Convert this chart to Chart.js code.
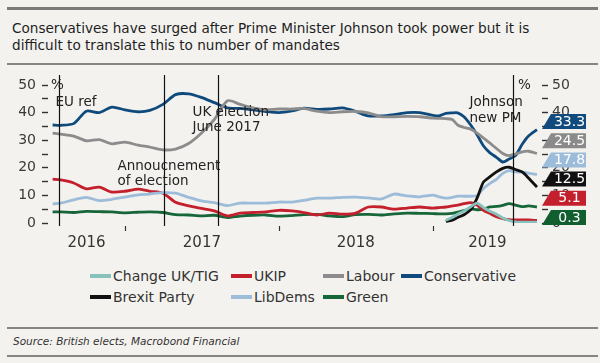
<!DOCTYPE html>
<html>
<head>
<meta charset="utf-8">
<script src="https://cdn.jsdelivr.net/npm/chart.js@4"></script>
<style>
  body { margin: 0; background: #f3f2ee; font-family: "DejaVu Sans", sans-serif; color: #222; }
  #page { position: relative; width: 600px; height: 363px; overflow: hidden; background: #f3f2ee; }
  .rule { position: absolute; left: 7px; right: 2px; background: #858585; }
  #title { position: absolute; left: 12px; top: 20px; font-size: 13.6px; line-height: 17px; color: #1e1e1e; }
  #chartBox { position: absolute; left: 0; top: 66px; width: 600px; height: 190px; }
  #legend { position: absolute; left: 90px; top: 267px; display: grid; grid-template-columns: 141px 92px 78px auto; row-gap: 3px; font-size: 14px; color: #333; }
  .item { display: flex; align-items: center; height: 18px; white-space: nowrap; }
  .swatch { width: 21px; height: 4px; margin-right: 2px; }
  #source { position: absolute; left: 13px; top: 335px; font-size: 10.5px; font-style: italic; color: #333; }
</style>
</head>
<body>
<div id="page">
  <div class="rule" style="top:7px;height:3px;background:#7a7a7a"></div>
  <div id="title">Conservatives have surged after Prime Minister Johnson took power but it is<br>difficult to translate this to number of mandates</div>
  <div class="rule" style="top:63px;height:2px"></div>
  <div id="chartBox"><canvas id="myChart" width="600" height="190"></canvas></div>
  <div id="legend"></div>
  <div class="rule" style="top:327px;height:2px"></div>
  <div id="source">Source: British elects, Macrobond Financial</div>
  <div class="rule" style="top:355px;height:2px"></div>
</div>
<script>
// monthly to end-2018, twice a month in 2019
const dates = [
  "2016-07-13", "2016-08-01", "2016-09-01", "2016-10-01", "2016-11-01", "2016-12-01",
  "2017-01-01", "2017-02-01", "2017-03-01", "2017-04-01", "2017-05-01", "2017-06-01",
  "2017-07-01", "2017-08-01", "2017-09-01", "2017-10-01", "2017-11-01", "2017-12-01",
  "2018-01-01", "2018-02-01", "2018-03-01", "2018-04-01", "2018-05-01", "2018-06-01",
  "2018-07-01", "2018-08-01", "2018-09-01", "2018-10-01", "2018-11-01", "2018-12-01",
  "2019-01-01", "2019-01-16", "2019-02-01", "2019-02-16", "2019-03-01", "2019-03-16",
  "2019-04-01", "2019-04-16", "2019-05-01", "2019-05-16", "2019-06-01", "2019-06-16",
  "2019-07-01", "2019-07-16", "2019-08-01", "2019-08-16", "2019-09-05"
];
const newPartyDates = dates.slice(32);

const conservative = [35.5, 35.4, 36, 40.5, 40, 42, 41, 40.3, 40.8, 43, 46.5, 46.8, 45.5, 43.6, 41.7, 41.5, 41, 40.4,
  40, 40.6, 41.6, 41.2, 41.3, 41.7, 40.5, 38.8, 38.8, 39.3, 40, 40,
  39, 38.8, 39.7, 39.9, 39.9, 38.5, 35.5, 32, 28, 25.5, 23.8, 22.1, 23.2, 24.4, 28.5, 31.5, 33.8];
const labour = [32.6, 32.2, 31.5, 29.8, 30.2, 28.7, 29.3, 28.2, 27.5, 26.5, 26.8, 28.8, 32.5, 37.5, 44.3, 43, 41.7, 41,
  41.3, 41.3, 41.5, 40.5, 40, 40.3, 40.4, 39.9, 38.5, 38.5, 38.6, 38.5,
  38, 37.9, 37.8, 37.5, 35.5, 34.6, 34, 32.6, 30.8, 29, 27, 25.2, 24.4, 25, 25.8, 26, 25.2];
const libDems = [6.9, 7.2, 8.4, 9.3, 8.1, 8.6, 9.4, 10.2, 10.5, 11, 10.8, 9.3, 8, 7.4, 6.3, 7.2, 7.2, 7.2,
  7.6, 7.6, 8.2, 9, 9, 9.3, 9.4, 9.1, 8.7, 10.5, 9.8, 9.5,
  10.1, 9.5, 9, 9.3, 9.7, 9.7, 9.7, 9.9, 12.5, 14.3, 15.8, 18, 19, 18.5, 18.4, 18.1, 17.5];
const ukip = [15.9, 15.6, 14.5, 12.4, 13, 11.2, 11.5, 12.3, 11.5, 10.8, 7.5, 6.2, 5.3, 4.4, 2.6, 3.6, 3.8, 4,
  4.6, 4.4, 3.8, 2.9, 3.6, 3.2, 3.5, 5.8, 5.8, 5, 5.4, 5.8,
  5.4, 5.6, 5.8, 6.2, 6.5, 7, 7.4, 6.5, 4.6, 3.5, 2.3, 1.6, 1.2, 1.1, 1.1, 1.1, 0.9];
const green = [4, 4, 3.8, 4.2, 4.1, 4, 3.7, 3.9, 4, 3.8, 3, 2.9, 2.6, 2.8, 2, 2.5, 2.8, 2.9,
  2.5, 2.7, 3, 3.1, 2.6, 2.3, 3, 3.1, 2.9, 3.3, 3.6, 3.5,
  3.4, 3.3, 3.3, 3.5, 3.9, 4.5, 5.1, 4.8, 5, 5.8, 6, 6.4, 7, 6.5, 5.9, 6.2, 5.8];
const brexitParty = [0.6, 1, 2, 3, 4.8, 9, 14.8, 16.7, 18.5, 19.8, 20.2, 19.4, 18.5, 16.3, 13];
const changeUK = [1, 2, 3.2, 4.3, 5.9, 7.2, 5.6, 4.3, 3.2, 1.8, 0.9, 0.4, 0.3, 0.3, 0.3];

const legendOrder = ["Change UK/TIG", "UKIP", "Labour", "Conservative", "Brexit Party", "LibDems", "Green"];
const yearLabels = ["2016", "2017", "2018", "2019"];
const endLabels = ["33.3", "24.5", "17.8", "12.5", "5.1", "0.3"];
const endColors = ["#114a7c", "#8a8a8a", "#9cbcd9", "#111111", "#c41f2c", "#115f2f"];

// vertical event lines + their notes
const events = [
  { date: "2016-07-29", dx: -4, lines: ["EU ref"], value: 43.8 },
  { date: "2017-04-04", dx: -47, lines: ["Annoucnement", "of election"], value: 20.6 },
  { date: "2017-08-10", dx: -26, lines: ["UK election", "June 2017"], value: 40.2 },
  { date: "2019-07-10", dx: -44, lines: ["Johnson", "new PM"], value: 43.5 }
];

function toYear(s) {
  const d = new Date(s + "T00:00:00Z");
  const y = d.getUTCFullYear();
  const a = Date.UTC(y, 0, 1), b = Date.UTC(y + 1, 0, 1);
  return y + (d - a) / (b - a);
}
function pts(vals, ds) {
  return vals.map((v, i) => ({ x: toYear(ds[i]), y: v }));
}

const series = [
  { label: "Change UK/TIG", data: pts(changeUK, newPartyDates), color: "#86c1bc" },
  { label: "Brexit Party", data: pts(brexitParty, newPartyDates), color: "#111111" },
  { label: "Labour", data: pts(labour, dates), color: "#8c8c8c" },
  { label: "Conservative", data: pts(conservative, dates), color: "#0f4a7d" },
  { label: "LibDems", data: pts(libDems, dates), color: "#9cbcd9" },
  { label: "UKIP", data: pts(ukip, dates), color: "#c41f2c" },
  { label: "Green", data: pts(green, dates), color: "#17663a" }
];

const FONT = "DejaVu Sans";

const extras = {
  id: "extras",
  afterDatasetsDraw(chart) {
    const { ctx, chartArea, scales } = chart;
    const x = scales.x, y = scales.y;
    ctx.save();
    ctx.strokeStyle = "#111";
    ctx.lineWidth = 1.2;
    ctx.fillStyle = "#222";
    ctx.font = "13.5px " + FONT;
    ctx.textBaseline = "middle";
    events.forEach((ev) => {
      const px = Math.round(x.getPixelForValue(toYear(ev.date))) + 0.5;
      ctx.beginPath();
      ctx.moveTo(px, chartArea.top - 10);
      ctx.lineTo(px, chartArea.bottom + 3);
      ctx.stroke();
      const py = y.getPixelForValue(ev.value);
      ev.lines.forEach((t, i) => ctx.fillText(t, px + ev.dx, py + i * 15.5));
    });
    ctx.fillText("%", chartArea.left + 3, y.getPixelForValue(50));
    ctx.fillText("%", chartArea.right - 24, y.getPixelForValue(50));
    ctx.restore();
  },
  afterDraw(chart) {
    const { ctx, chartArea, scales } = chart;
    const x = scales.x;
    ctx.save();
    // year ticks and labels
    ctx.strokeStyle = "#333";
    ctx.lineWidth = 1.2;
    ctx.fillStyle = "#333";
    ctx.font = "15px " + FONT;
    ctx.textAlign = "center";
    ctx.textBaseline = "middle";
    yearLabels.forEach((yr) => {
      const a = Math.max(chartArea.left, x.getPixelForValue(Number(yr)));
      const b = Math.min(chartArea.right, x.getPixelForValue(Number(yr) + 1));
      if (Number(yr) > Number(yearLabels[0])) {
        const px = Math.round(x.getPixelForValue(Number(yr))) + 0.5;
        ctx.beginPath();
        ctx.moveTo(px, chartArea.bottom + 3);
        ctx.lineTo(px, chartArea.bottom + 8);
        ctx.stroke();
      }
      ctx.fillText(yr, (a + b) / 2, chartArea.bottom + 20);
    });
    // value boxes at the right edge
    const h = 15, step = 19.2, left = chartArea.right, boxL = left + 9, boxR = left + 44;
    ctx.font = "14px " + FONT;
    endLabels.forEach((t, i) => {
      const top = chartArea.bottom + 2 - h - (endLabels.length - 1 - i) * step;
      ctx.fillStyle = endColors[i];
      ctx.beginPath();
      ctx.moveTo(left, top + h);
      ctx.lineTo(boxL, top);
      ctx.lineTo(boxR, top);
      ctx.lineTo(boxR, top + h);
      ctx.closePath();
      ctx.fill();
      ctx.fillStyle = "#fff";
      ctx.fillText(t, (boxL + boxR) / 2 + 1, top + h / 2 + 0.5);
    });
    ctx.restore();
  }
};

function yAxis(pos, pad, width) {
  return {
    position: pos,
    min: 0,
    max: 50,
    border: { display: false },
    grid: { drawOnChartArea: false, drawTicks: true, tickLength: 6, tickColor: "#333", tickWidth: 1.4 },
    ticks: {
      stepSize: 5,
      autoSkip: false,
      padding: pad,
      color: "#3a3a3a",
      font: { family: FONT, size: 14 },
      callback: (v) => (v % 10 === 0 ? v : "")
    },
    afterFit: (s) => { s.width = width; }
  };
}

new Chart(document.getElementById("myChart").getContext("2d"), {
  type: "line",
  data: {
    datasets: series.map((s) => ({
      label: s.label,
      data: s.data,
      borderColor: s.color,
      backgroundColor: s.color,
      borderWidth: 2.8,
      pointRadius: 0,
      tension: 0.25
    }))
  },
  options: {
    responsive: false,
    animation: false,
    devicePixelRatio: 1,
    layout: { padding: { top: 19, bottom: 33, left: 0, right: 0 } },
    scales: {
      x: { type: "linear", display: false, min: toYear("2016-07-02"), max: toYear("2019-09-17") },
      y: yAxis("left", 6, 48),
      y2: yAxis("right", 4, 58)
    },
    plugins: { legend: { display: false }, tooltip: { enabled: false } }
  },
  plugins: [extras]
});

// legend in the source's order
const legend = document.getElementById("legend");
legendOrder.forEach((name) => {
  const s = series.find((d) => d.label === name);
  const item = document.createElement("div");
  item.className = "item";
  item.innerHTML = '<span class="swatch" style="background:' + s.color + '"></span>' + name;
  legend.appendChild(item);
});
</script>
</body>
</html>
